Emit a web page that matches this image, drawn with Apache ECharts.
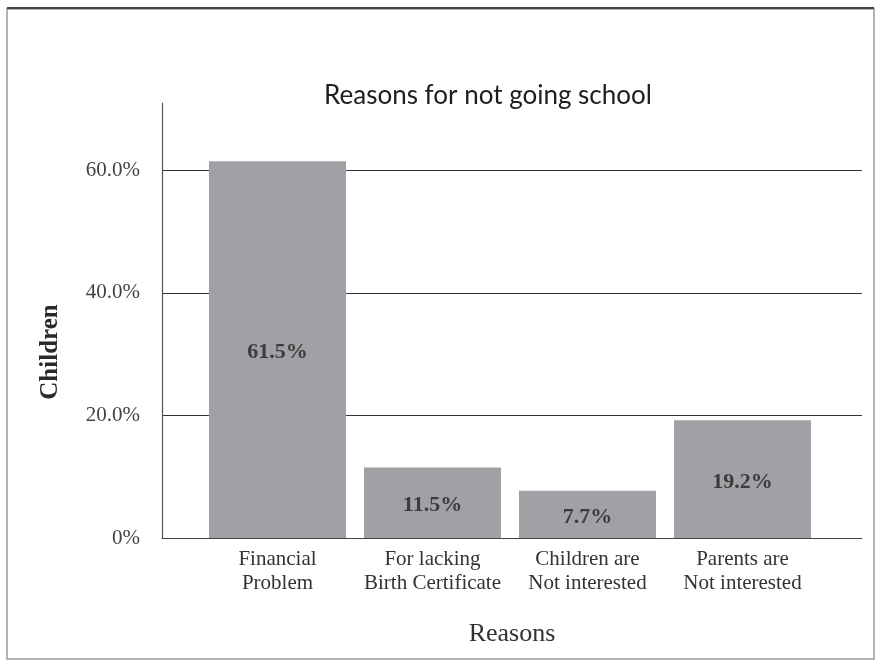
<!DOCTYPE html>
<html>
<head>
<meta charset="utf-8">
<style>
  html, body { margin: 0; padding: 0; background: #ffffff; }
  #chart { width: 877px; height: 664px; }
</style>
<script src="https://cdn.jsdelivr.net/npm/echarts@6/dist/echarts.min.js"></script>
</head>
<body>
<div id="chart"></div>
<script>
// Reasons children give for not attending school (share of children, %)
const reasons = [
  'Financial\nProblem',
  'For lacking\nBirth Certificate',
  'Children are\nNot interested',
  'Parents are\nNot interested'
];
const shares = [61.5, 11.5, 7.7, 19.2];

// value axis range and labelled ticks
const axisMax = 71;
const tickStep = 20;

const serif = '"Liberation Serif", "Times New Roman", serif';

const chart = echarts.init(document.getElementById('chart'), null, { renderer: 'canvas' });

chart.setOption({
  backgroundColor: '#ffffff',
  animation: false,
  title: {
    text: 'Reasons for not going school',
    left: 483,
    textAlign: 'center',
    top: 78,
    textStyle: { fontFamily: 'Lato, "Open Sans", sans-serif', fontSize: 26, fontWeight: 'normal', color: '#1e1e1e' }
  },
  grid: [
    // frame grid: axis lines and gridlines
    { left: 162, right: 15, top: 103, bottom: 126 },
    // bar grid
    { left: 200, right: 57, top: 103, bottom: 126 }
  ],
  xAxis: [
    {
      gridIndex: 0, type: 'value', min: 0, max: 1,
      axisLine: { show: true, onZero: false, lineStyle: { color: '#444', width: 1.2 } },
      axisTick: { show: false }, axisLabel: { show: false }, splitLine: { show: false },
      name: 'Reasons', nameLocation: 'middle', nameGap: 83,
      nameTextStyle: { fontFamily: serif, fontSize: 26, color: '#333' }
    },
    {
      gridIndex: 1, type: 'category', data: reasons,
      axisLine: { show: false }, axisTick: { show: false },
      axisLabel: { fontFamily: serif, fontSize: 21, color: '#333', lineHeight: 24, margin: 9, interval: 0 }
    }
  ],
  yAxis: [
    {
      gridIndex: 0, type: 'value', min: 0, max: axisMax, interval: tickStep,
      axisLine: { show: true, lineStyle: { color: '#555', width: 1.2 } },
      axisTick: { show: false },
      axisLabel: {
        showMaxLabel: false, margin: 22,
        fontFamily: serif, fontSize: 21, color: '#444',
        formatter: v => v === 0 ? '0%' : v.toFixed(1) + '%'
      },
      splitLine: { show: true, showMaxLine: false, showMinLine: false, lineStyle: { color: '#333', width: 1.2 } }
    },
    {
      gridIndex: 1, type: 'value', min: 0, max: axisMax, interval: tickStep,
      show: false
    }
  ],
  series: [{
    type: 'bar',
    xAxisIndex: 1, yAxisIndex: 1,
    data: shares,
    barCategoryGap: '11.6%',
    itemStyle: { color: '#9fa1a4' },
    label: {
      show: true, position: 'inside', offset: [0, 3],
      fontFamily: serif, fontSize: 22, fontWeight: 'bold', color: '#3c3c3c',
      formatter: p => p.value.toFixed(1) + '%'
    }
  }],
  graphic: [
    {
      type: 'text', x: 51, y: 352, rotation: Math.PI / 2,
      style: {
        text: 'Children', fontFamily: serif, fontSize: 25, fontWeight: 'bold',
        fill: '#2a2a2a', align: 'center', verticalAlign: 'middle'
      }
    },
    {
      type: 'rect', shape: { x: 7, y: 9, width: 867, height: 650 },
      style: { fill: 'none', stroke: '#9a9a9a', lineWidth: 1.5 }, z: -1
    },
    {
      type: 'line', shape: { x1: 7, y1: 8, x2: 874, y2: 8 },
      style: { stroke: '#444', lineWidth: 2 }, z: -1
    }
  ]
});
</script>
</body>
</html>
